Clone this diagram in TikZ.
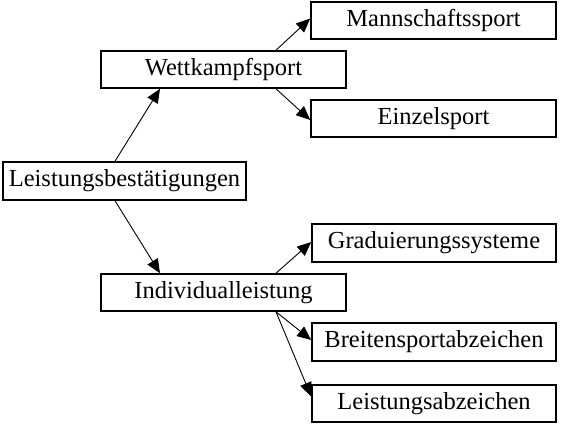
\documentclass[tikz,border=0pt]{standalone}
\usepackage{fontspec}
\setmainfont{Liberation Serif}
\usetikzlibrary{arrows.meta}
\begin{document}
\begin{tikzpicture}[x=1pt,y=-1pt,
  box/.style={draw=black,line width=1.6pt,minimum width=245pt,minimum height=37pt,inner sep=0pt,
    font=\fontsize{24.5}{28}\selectfont},
  link/.style={draw=black,line width=0.9pt,-{Triangle[length=14pt,width=12pt]}}]
\useasboundingbox[fill=white] (0,0) rectangle (562,430);
\node[box,minimum width=243pt,minimum height=38pt] (L) at (124.5,181) {Leistungsbestätigungen};
\node[box] (W) at (223.5,69.5) {Wettkampfsport};
\node[box] (I) at (223.5,292.5) {Individualleistung};
\node[box] (M) at (433.5,20.5) {Mannschaftssport};
\node[box] (E) at (433.5,118.5) {Einzelsport};
\node[box,minimum width=244pt,minimum height=38pt] (G) at (434,243) {Graduierungssysteme};
\node[box,minimum width=244pt,minimum height=38pt] (B) at (434,342) {Breitensportabzeichen};
\node[box,minimum width=244pt] (A) at (434,403.5) {Leistungsabzeichen};
\draw[link] ([xshift=-9.5pt]L.north) -- ([xshift=-63.5pt]W.south);
\draw[link] ([xshift=-9.5pt]L.south) -- ([xshift=-63.5pt]I.north);
\draw[link] ([xshift=52.5pt]W.north) -- ([yshift=2pt]M.west);
\draw[link] ([xshift=52.5pt]W.south) -- ([yshift=-1.5pt]E.west);
\draw[link] ([xshift=52.5pt]I.north) -- ([yshift=1pt]G.west);
\draw[link] ([xshift=52.5pt]I.south) -- ([yshift=2pt]B.west);
\draw[link] ([xshift=52.5pt]I.south) -- ([yshift=7pt]A.west);
\end{tikzpicture}
\end{document}
